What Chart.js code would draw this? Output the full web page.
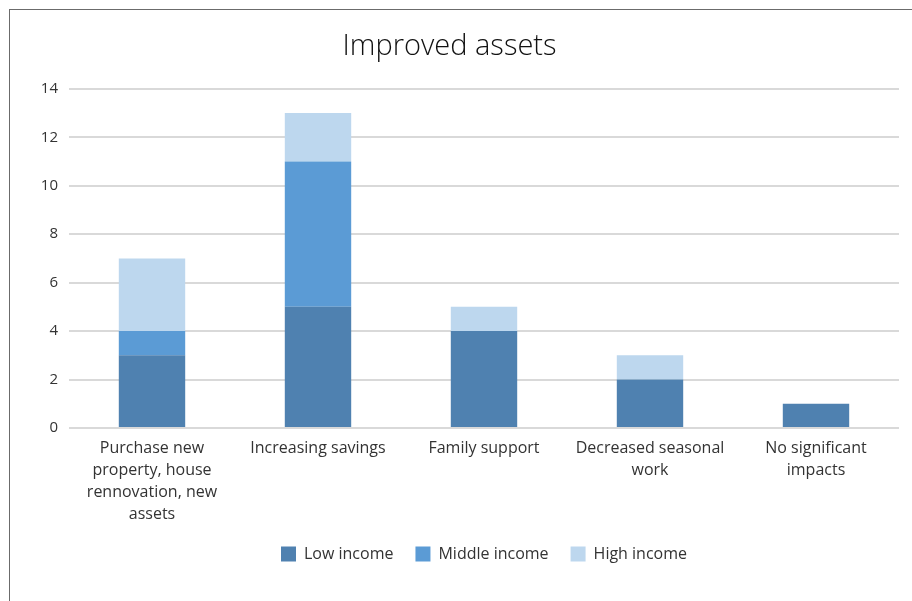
<!DOCTYPE html>
<html lang="en">
<head>
<meta charset="UTF-8">
<title>Improved assets</title>
<script src="https://cdn.jsdelivr.net/npm/chart.js"></script>
<style>
    html, body { margin: 0; padding: 0; background: #fff; }
    .wrap { position: relative; width: 912px; height: 601px; }
    .frame {
        position: absolute; left: 9px; top: 9px; width: 910px; height: 620px;
        border: 1px solid #6b6b6b;
    }
    canvas { position: absolute; left: 0; top: 0; }
</style>
</head>
<body>
<div class="wrap">
    <div class="frame"></div>
    <canvas id="grafico" width="912" height="601"></canvas>
</div>

<script>
    const categorias = [
        ['Purchase new', 'property, house', 'rennovation, new', 'assets'],
        'Increasing savings',
        'Family support',
        ['Decreased seasonal', 'work'],
        ['No significant', 'impacts']
    ];
    const lowIncome = [3, 5, 4, 2, 1];
    const middleIncome = [1, 6, 0, 0, 0];
    const highIncome = [3, 2, 1, 1, 0];

    const fonte = "'Open Sans', sans-serif";

    const ctx = document.getElementById('grafico').getContext('2d');
    new Chart(ctx, {
        type: 'bar',
        data: {
            labels: categorias,
            datasets: [
                { label: 'Low income', data: lowIncome, backgroundColor: '#4f81b0' },
                { label: 'Middle income', data: middleIncome, backgroundColor: '#5b9bd5' },
                { label: 'High income', data: highIncome, backgroundColor: '#bdd7ee' }
            ]
        },
        options: {
            responsive: false,
            animation: false,
            layout: { padding: { left: 0, right: 13, top: 0, bottom: 29 } },
            categoryPercentage: 0.8,
            barPercentage: 0.5,
            plugins: {
                title: {
                    display: true,
                    text: 'Improved assets',
                    color: '#111',
                    font: { family: fonte, size: 29, weight: '300' },
                    padding: { top: 29, bottom: 25 }
                },
                legend: {
                    position: 'bottom',
                    fullSize: false,
                    labels: {
                        color: '#333',
                        font: { family: fonte, size: 16 },
                        boxWidth: 15,
                        boxHeight: 15,
                        padding: 22
                    }
                },
                tooltip: { enabled: false }
            },
            scales: {
                x: {
                    stacked: true,
                    grid: { display: false, drawTicks: false },
                    border: { display: false },
                    ticks: {
                        color: '#333',
                        font: { family: fonte, size: 16, lineHeight: 1.375 },
                        maxRotation: 0,
                        autoSkip: false,
                        padding: 9
                    },
                    afterFit: (s) => { s.height = 96; }
                },
                y: {
                    stacked: true,
                    min: 0,
                    max: 14,
                    grid: { color: '#d9d9d9', lineWidth: 2, drawTicks: false },
                    border: { display: false },
                    ticks: {
                        stepSize: 2,
                        color: '#333',
                        font: { family: fonte, size: 15 },
                        padding: 11
                    },
                    afterFit: (s) => { s.width = 69; }
                }
            }
        }
    });
</script>
</body>
</html>
